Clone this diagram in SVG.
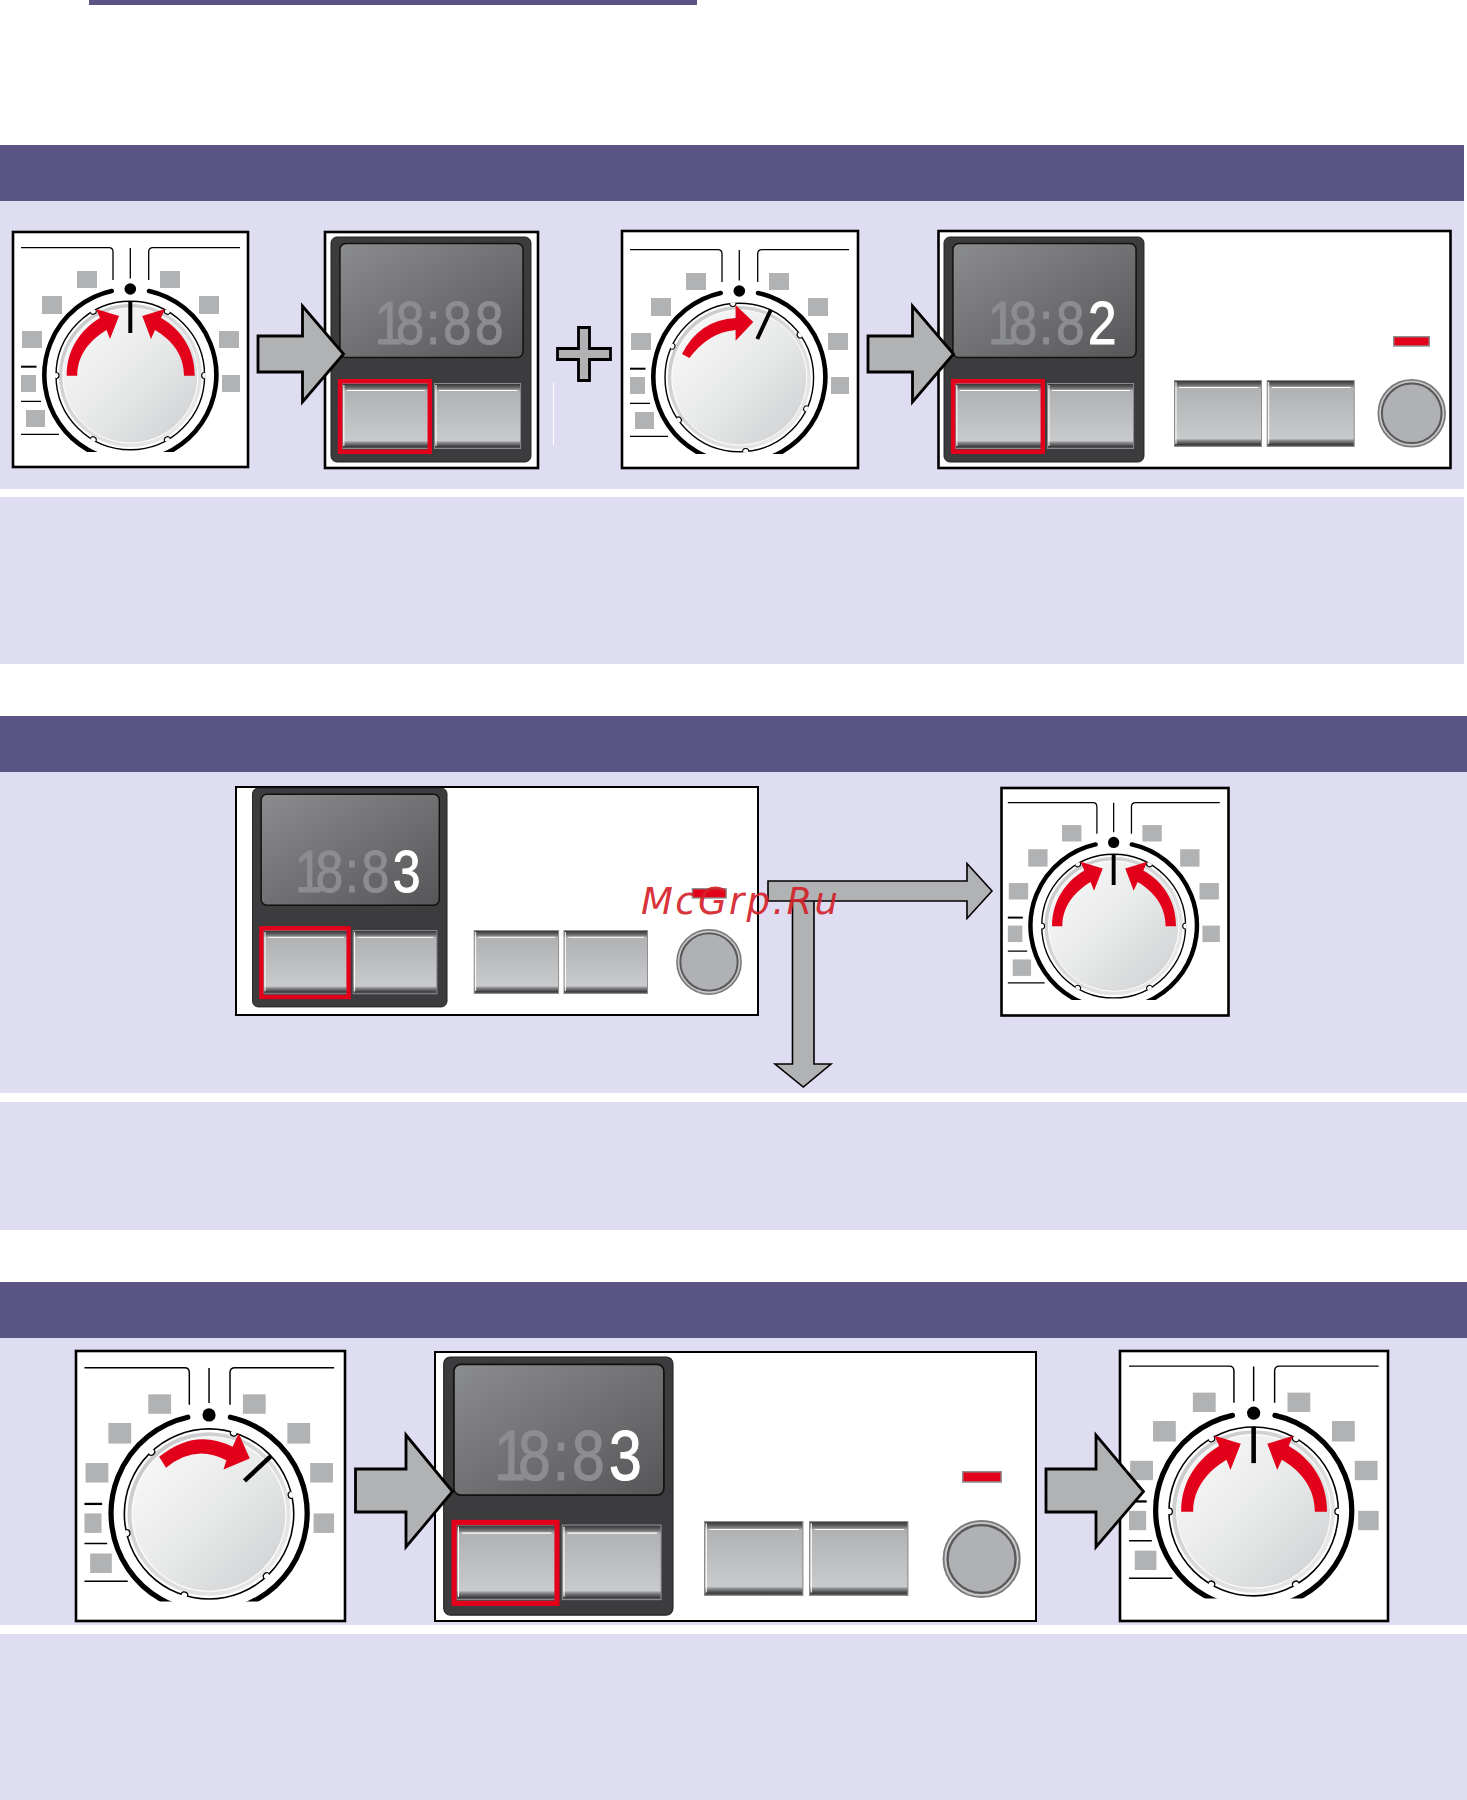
<svg xmlns="http://www.w3.org/2000/svg" width="1467" height="1800" viewBox="0 0 1467 1800">
<style>
.hd{fill:#5b5586}.bg{fill:#dfddf2}
.box{fill:#fff;stroke:#000;stroke-width:2.6}
.sq{fill:#b1b2b4}
.ln{fill:none;stroke:#000;stroke-width:1.3}
.red{fill:#e2001a}
.arr{fill:#b1b2b4;stroke:#000;stroke-width:2.8;stroke-linejoin:miter}
.arrs{fill:#b1b2b4;stroke:#000;stroke-width:1.6}
.dg{font-family:"Liberation Sans",Arial,sans-serif;font-size:61px;text-anchor:middle;fill:#8c8d8f;stroke:#8c8d8f;stroke-width:1}
.dw{fill:#fff;stroke:#fff}
</style>
<defs>
<linearGradient id="gFace" x1="0" y1="0" x2="1" y2="1"><stop offset="0" stop-color="#fbfbfb"/><stop offset=".5" stop-color="#e8e9e9"/><stop offset="1" stop-color="#cdced0"/></linearGradient>
<linearGradient id="gRim" x1="0" y1="0" x2="1" y2="1"><stop offset="0" stop-color="#c4c5c6"/><stop offset="1" stop-color="#eeeeee"/></linearGradient>
<linearGradient id="gScr" x1="0" y1="0" x2="1" y2="1"><stop offset="0" stop-color="#8b8c8e"/><stop offset="1" stop-color="#565658"/></linearGradient>
<linearGradient id="gBtn" x1="0" y1="0" x2="0" y2="1"><stop offset="0" stop-color="#2e2e30"/><stop offset=".07" stop-color="#6e6e70"/><stop offset=".11" stop-color="#b0b1b3"/><stop offset=".88" stop-color="#c9cacb"/><stop offset=".91" stop-color="#8a8b8c"/><stop offset=".97" stop-color="#3d3d3f"/><stop offset="1" stop-color="#666668"/></linearGradient>
<clipPath id="dc"><rect x="0" y="0" width="240" height="222"/></clipPath>
<g id="dialBase">
<path class="ln" d="M11,17.7H99Q103,17.7 103,22V50M138.7,50V22Q138.7,17.7 143,17.7H230M120.3,18V48.5"/>
<circle cx="120.3" cy="59" r="5.8"/>
<rect class="sq" x="67" y="41" width="20" height="17"/><rect class="sq" x="32" y="66" width="20" height="18"/><rect class="sq" x="12" y="101" width="20" height="17"/><rect class="sq" x="11" y="145" width="15" height="17"/><rect class="sq" x="16" y="180" width="19" height="17"/>
<rect class="sq" x="150" y="41" width="20" height="17"/><rect class="sq" x="189" y="66" width="20" height="18"/><rect class="sq" x="209" y="101" width="20" height="17"/><rect class="sq" x="212" y="145" width="18" height="17"/>
<path d="M11,136.7H26.5" stroke="#000" stroke-width="2"/><path class="ln" d="M11,171.3H31M11,204.3H49"/>
<g clip-path="url(#dc)"><path d="M101.7,61A86,86 0 1 0 139,61" fill="none" stroke="#000" stroke-width="4.6" stroke-linecap="round"/></g>
<circle cx="120.3" cy="145.5" r="74.3" fill="#fff" stroke="#000" stroke-width="1.4"/>
<circle cx="120.3" cy="145.5" r="71.5" fill="url(#gRim)"/>
<circle cx="120.3" cy="145.5" r="67.5" fill="url(#gFace)" stroke="#fff" stroke-width="1"/>
</g>
<g id="notch"><path d="M-3,-74.3A3,3 0 0 0 3,-74.3Z" fill="#fff"/><path d="M-3,-74.3A3,3 0 0 0 3,-74.3" fill="none" stroke="#000" stroke-width="1.1"/><path d="M-2.3,-74.3H2.3" stroke="#fff" stroke-width="2"/></g>
<g id="knobMarks">
<use href="#notch" transform="rotate(30)"/><use href="#notch" transform="rotate(90)"/><use href="#notch" transform="rotate(150)"/><use href="#notch" transform="rotate(210)"/><use href="#notch" transform="rotate(270)"/><use href="#notch" transform="rotate(330)"/>
<path d="M0,-74.5V-42.5" stroke="#000" stroke-width="4"/>
</g>
<path id="arrowsBoth" class="red" d="M56.7,145.7C56.7,120 70,100 90,88L86,79L109,86L100,109L96.5,100C80,110 67.3,125 67.3,145.7ZM184.7,145.7C184.7,120 172,100 151,88L155,79L132.3,86L141,109L145,100C162,110 174,125 174,145.7Z"/>
<g id="btn"><rect x=".5" y=".5" width="87" height="65" fill="url(#gBtn)" stroke="#8c8c8e" stroke-width="1"/><path d="M5,7.5H84M2,2V63" stroke="#fff" stroke-width="1" fill="none"/></g>
<g id="knob"><circle r="33.5" fill="#b0b1b3" stroke="#77777a" stroke-width="1.5"/><circle r="31.6" fill="none" stroke="#cfcfd0" stroke-width="1"/><circle r="29.8" fill="none" stroke="#58585a" stroke-width="2"/></g>
<rect id="mark" x=".7" y=".7" width="35.6" height="9.3" fill="#e2001a" stroke="#8e8f91" stroke-width="1.4"/>
<g id="panelCore">
<rect x="0" y="0" width="202" height="225" rx="6" fill="#3c3c3e" stroke="#222" stroke-width="1"/>
<rect x="9" y="6.5" width="185" height="114" rx="6" fill="url(#gScr)" stroke="#111" stroke-width="1.5"/>
<use href="#btn" x="11" y="146"/><use href="#btn" x="104" y="146"/>
<rect x="9.2" y="144.2" width="90.6" height="70.6" fill="none" stroke="#e2001a" stroke-width="4.5"/>
</g>
</defs>

<g id="bars">
<rect class="hd" x="89" y="0" width="608" height="5"/>
<rect class="hd" x="0" y="145" width="1464" height="56"/>
<rect class="bg" x="0" y="201" width="1464" height="288"/>
<rect class="bg" x="0" y="497" width="1464" height="167"/>
<rect class="hd" x="0" y="716" width="1467" height="56"/>
<rect class="bg" x="0" y="772" width="1467" height="321"/>
<rect class="bg" x="0" y="1102" width="1467" height="128"/>
<rect class="hd" x="0" y="1282" width="1467" height="56"/>
<rect class="bg" x="0" y="1338" width="1467" height="287"/>
<rect class="bg" x="0" y="1634" width="1467" height="166"/>
</g>

<g id="dial1">
<rect class="box" x="13" y="232" width="235" height="235"/>
<g transform="translate(10,230)"><use href="#dialBase"/><use href="#knobMarks" transform="translate(120.3,145.5)"/><use href="#arrowsBoth"/></g>
</g>

<g id="panel1">
<rect class="box" x="325" y="232" width="213" height="236"/>
<g transform="translate(331,237) scale(.99,1)"><use href="#panelCore"/>
<text class="dg" transform="translate(0,107) scale(.85,1)" x="69 94 121.5 150 188.2" y="0">18:88</text></g>
</g>

<path id="divider" d="M553.5,382V445" stroke="#fff" stroke-width="1"/>

<g id="dial2">
<rect class="box" x="622" y="231" width="236" height="237"/>
<g transform="translate(619,232)"><use href="#dialBase"/><use href="#knobMarks" transform="translate(120.3,145.5) rotate(25)"/>
<path class="red" d="M63,122Q80,88 116.6,86L116.6,73L134.3,90L116.6,108.7L116.6,98Q90,100 70.4,126Z"/></g>
</g>

<g id="panel2">
<rect class="box" x="938.5" y="231" width="512" height="237"/>
<g transform="translate(944,237) scale(.99,1)"><use href="#panelCore"/>
<text class="dg" transform="translate(0,107) scale(.85,1)" x="69 94 121.5 150" y="0">18:8</text>
<text class="dg dw" transform="translate(0,107) scale(.85,1)" x="188.2" y="0">2</text></g>
<use href="#btn" transform="translate(1174,380) scale(1,1.015)"/><use href="#btn" transform="translate(1266.7,380) scale(1,1.015)"/>
<use href="#knob" transform="translate(1411.7,413.3)"/><use href="#mark" transform="translate(1393,336)"/>
</g>

<g id="panel3">
<rect class="box" x="236" y="787" width="522" height="228" style="stroke-width:2"/>
<g transform="translate(252.5,788) scale(.963,.973)"><use href="#panelCore"/>
<text class="dg" transform="translate(0,107) scale(.85,1)" x="69 94 121.5 150" y="0">18:8</text>
<text class="dg dw" transform="translate(0,107) scale(.85,1)" x="188.2" y="0">3</text></g>
<use href="#btn" transform="translate(473.7,930) scale(.97)"/><use href="#btn" transform="translate(563.5,930) scale(.96,.97)"/>
<use href="#knob" transform="translate(709,962) scale(.96)"/><use href="#mark" transform="translate(691.7,888) scale(.95,1)"/>
</g>

<g id="dial3">
<rect class="box" x="1001.5" y="788" width="227" height="227.5" style="stroke-width:2.6"/>
<g transform="translate(997.2,785.4) scale(.968,.967)"><use href="#dialBase"/><use href="#knobMarks" transform="translate(120.3,145.5)"/><use href="#arrowsBoth"/></g>
</g>

<g id="dial4">
<rect class="box" x="76" y="1351" width="269" height="270"/>
<g transform="translate(71.9,1347.4) scale(1.14,1.145)"><use href="#dialBase"/><use href="#knobMarks" transform="translate(120.3,145.5) rotate(47)"/>
<path class="red" d="M76.5,95.6Q108,70 141,86.8L146.3,75L156,97L133,106.7L135.5,98.5Q108,84 82.6,105Z"/></g>
</g>

<g id="panel4">
<rect class="box" x="435" y="1352" width="601" height="269" style="stroke-width:2"/>
<g transform="translate(443.7,1357) scale(1.135,1.147)"><use href="#panelCore"/>
<text class="dg" transform="translate(0,107) scale(.85,1)" x="69 94 121.5 150" y="0">18:8</text>
<text class="dg dw" transform="translate(0,107) scale(.85,1)" x="188.2" y="0">3</text></g>
<use href="#btn" transform="translate(704,1521) scale(1.13,1.136)"/><use href="#btn" transform="translate(809,1521) scale(1.13,1.136)"/>
<use href="#knob" transform="translate(981.6,1559) scale(1.14)"/><use href="#mark" transform="translate(962,1471) scale(1.08,1.1)"/>
</g>

<g id="dial5">
<rect class="box" x="1120" y="1351" width="268" height="270"/>
<g transform="translate(1116.5,1346) scale(1.14,1.137)"><use href="#dialBase"/><use href="#knobMarks" transform="translate(120.3,145.5)"/><use href="#arrowsBoth"/></g>
</g>

<g id="connectors">
<path class="arr" d="M258,336H302.5V306L343.5,354L302.5,402V372H258Z"/>
<path class="arr" d="M557.5,348.5H578.5V327.5H589.5V348.5H610.5V359.5H589.5V380.5H578.5V359.5H557.5Z"/>
<path class="arr" d="M868,336H912.5V306L953.5,354L912.5,402V372H868Z"/>
<path class="arrs" d="M792.5,901V1064H775L803.3,1087L831,1064H814V901"/>
<path class="arrs" d="M768,881H967V863.5L992,891L967,918.5V901H768Z"/>
<path class="arr" d="M355.5,1469H406V1435L452.5,1491.5L406,1547V1512H355.5Z"/>
<path class="arr" d="M1046,1469H1096V1435L1143.5,1491.5L1096,1547V1512H1046Z"/>
</g>

<text id="watermark" x="641" y="914" font-family="'DejaVu Sans',sans-serif" font-style="italic" font-size="37" fill="#d42028" fill-opacity=".92" textLength="197">McGrp.Ru</text>
</svg>
